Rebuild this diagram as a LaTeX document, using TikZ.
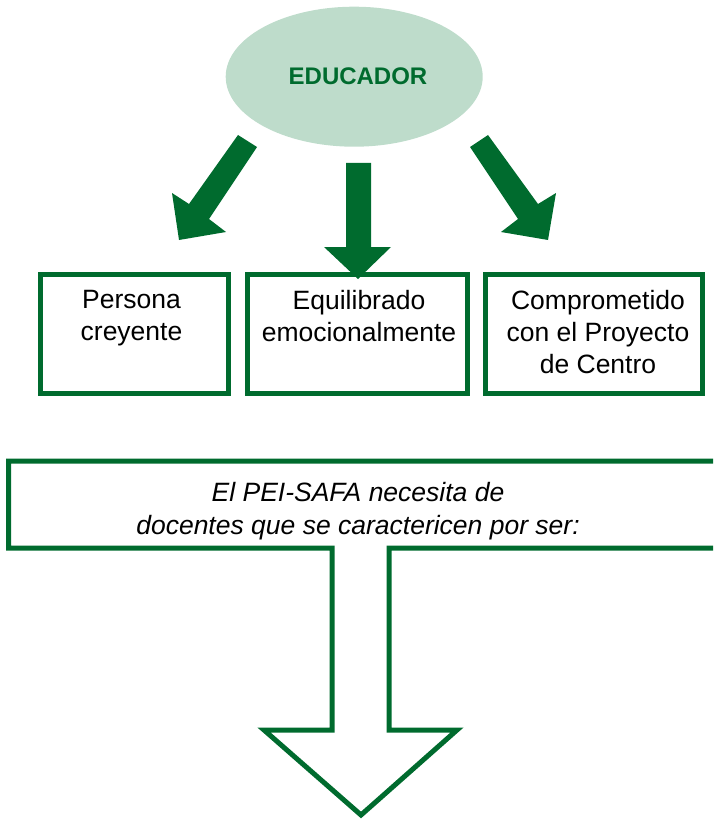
\documentclass[tikz,border=0pt]{standalone}
\usepackage{fontspec}
\setmainfont{Liberation Sans}
\usetikzlibrary{shapes.geometric}
\definecolor{dkgreen}{RGB}{0,107,46}
\definecolor{ltgreen}{RGB}{190,220,203}
\begin{document}
\begin{tikzpicture}[x=1pt,y=-1pt,
  box/.style={draw=dkgreen, line width=5pt, rectangle, inner sep=0pt},
  blockarrow/.style={fill=dkgreen, draw=none},
  lbl/.style={font=\fontsize{26.5}{32}\selectfont, align=center, inner sep=0pt, anchor=north, text=black}]
\clip (0,0) rectangle (713,821);
% top ellipse
\node[ellipse, fill=ltgreen, minimum width=257pt, minimum height=140pt, inner sep=0pt] (edu) at (354.2,76.7) {};
\node[font=\fontsize{24}{28}\selectfont\bfseries, text=dkgreen, inner sep=0pt] (edutext) at (358,76) {EDUCADOR};
% boxes
\node[box, minimum width=188pt, minimum height=119pt] (b1) at (134.5,334) {};
\node[box, minimum width=220pt, minimum height=119pt] (b2) at (357.5,334) {};
\node[box, minimum width=217pt, minimum height=119pt] (b3) at (594,334) {};
\node[lbl] (t1) at (131.5,290.5) {Persona\\creyente};
\node[lbl] (t2) at (359,290.5) {Equilibrado\\emocionalmente};
\node[lbl] (t3) at (598,290.5) {Comprometido\\con el Proyecto\\de Centro};
% block arrows
\fill[blockarrow] (238,135) -- (257,147) -- (209,219) -- (226,232) -- (179,240) -- (172,193) -- (189,204) -- cycle;
\fill[blockarrow] (346,163) -- (371,163) -- (371,247) -- (391,247) -- (358,279) -- (324,247) -- (346,247) -- cycle;
\fill[blockarrow] (488,135) -- (470,147) -- (518,219) -- (501,232) -- (548,240) -- (556,193) -- (538,204) -- cycle;
% bottom callout arrow
\draw[dkgreen, line width=5pt, miter limit=10] (8.5,461) -- (740,461) -- (740,548) -- (389,548) -- (389,730) -- (457,730) -- (361,815) -- (264,730) -- (332,730) -- (332,548) -- (8.5,548) -- cycle;
\node[lbl, font=\fontsize{26.5}{33}\selectfont\itshape] (q) at (358,482) {El PEI-SAFA necesita de\\docentes que se caractericen por ser:};
\end{tikzpicture}
\end{document}
